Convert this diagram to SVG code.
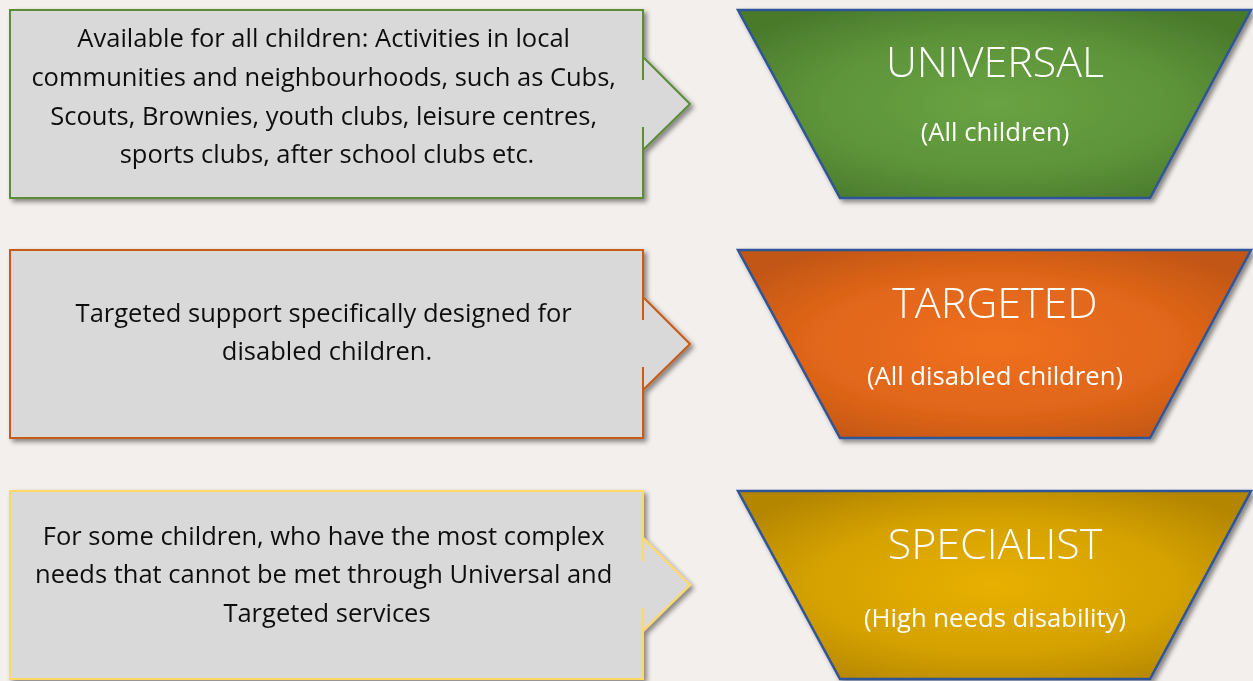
<svg xmlns="http://www.w3.org/2000/svg" width="1253" height="681" viewBox="0 0 1253 681">
  <style>
    .box { fill: #d9d9d9; stroke-width: 2; stroke-linejoin: miter; }
    .green { stroke: #5b8c39; }
    .orange { stroke: #c65b14; }
    .yellow { stroke: #ffd966; }
    .body { font-family: "Open Sans", "Liberation Sans", sans-serif; font-size: 25.5px; fill: #111111; text-anchor: middle; }
    .tier { stroke: #2f5597; stroke-width: 2.5; stroke-linejoin: miter; }
    .title { font-family: "Open Sans", "Liberation Sans", sans-serif; font-size: 43px; font-weight: 300; fill: #ffffff; text-anchor: middle; }
    .sub { font-family: "Open Sans", "Liberation Sans", sans-serif; font-size: 25.7px; fill: #ffffff; text-anchor: middle; }
  </style>
  <defs>
    <filter id="shadow" x="-10%" y="-10%" width="125%" height="130%">
      <feGaussianBlur in="SourceAlpha" stdDeviation="2.5"/>
      <feOffset dx="3" dy="3" result="blur"/>
      <feComponentTransfer><feFuncA type="linear" slope="0.45"/></feComponentTransfer>
      <feMerge><feMergeNode/><feMergeNode in="SourceGraphic"/></feMerge>
    </filter>
    <radialGradient id="gGreen" cx="0.5" cy="0.5" r="0.6">
      <stop offset="0" stop-color="#69a343"/>
      <stop offset="0.6" stop-color="#5d9339"/>
      <stop offset="1" stop-color="#4a7a2c"/>
    </radialGradient>
    <radialGradient id="gOrange" cx="0.5" cy="0.5" r="0.6">
      <stop offset="0" stop-color="#f0701a"/>
      <stop offset="0.6" stop-color="#e0661a"/>
      <stop offset="1" stop-color="#c25612"/>
    </radialGradient>
    <radialGradient id="gGold" cx="0.5" cy="0.5" r="0.6">
      <stop offset="0" stop-color="#e8b000"/>
      <stop offset="0.6" stop-color="#d4a100"/>
      <stop offset="1" stop-color="#b48600"/>
    </radialGradient>
  </defs>

  <rect width="1253" height="681" fill="#f3efec"/>

  <!-- description callouts -->
  <g id="universal-desc" filter="url(#shadow)">
    <path class="box green" d="M10,10 L643,10 L643,80 L643,57 L690,104 L643,150 L643,127 L643,198 L10,198 Z"/>
    <text class="body">
      <tspan x="327" y="47">Available for all children: Activities in local</tspan>
      <tspan x="327" y="86">communities and neighbourhoods, such as Cubs,</tspan>
      <tspan x="327" y="124.5">Scouts, Brownies, youth clubs, leisure centres,</tspan>
      <tspan x="327" y="163">sports clubs, after school clubs etc.</tspan>
    </text>
  </g>

  <g id="targeted-desc" filter="url(#shadow)">
    <path class="box orange" d="M10,250 L643,250 L643,320 L643,297 L690,344 L643,390 L643,367 L643,438 L10,438 Z"/>
    <text class="body">
      <tspan x="327" y="322">Targeted support specifically designed for</tspan>
      <tspan x="327" y="360">disabled children.</tspan>
    </text>
  </g>

  <g id="specialist-desc" filter="url(#shadow)">
    <path class="box yellow" d="M10,491 L643,491 L643,561 L643,538 L690,585 L643,631 L643,608 L643,679 L10,679 Z"/>
    <text class="body">
      <tspan x="327" y="545">For some children, who have the most complex</tspan>
      <tspan x="327" y="583">needs that cannot be met through Universal and</tspan>
      <tspan x="327" y="622">Targeted services</tspan>
    </text>
  </g>

  <!-- service tiers -->
  <g id="universal" filter="url(#shadow)">
    <polygon class="tier" fill="url(#gGreen)" points="738,10 1251,10 1150,198 840,198"/>
    <text class="title" x="995" y="77">UNIVERSAL</text>
    <text class="sub" x="995" y="141">(All children)</text>
  </g>

  <g id="targeted" filter="url(#shadow)">
    <polygon class="tier" fill="url(#gOrange)" points="738,250 1251,250 1150,438 840,438"/>
    <text class="title" x="995" y="318">TARGETED</text>
    <text class="sub" x="995" y="385">(All disabled children)</text>
  </g>

  <g id="specialist" filter="url(#shadow)">
    <polygon class="tier" fill="url(#gGold)" points="738,491 1251,491 1150,679 840,679"/>
    <text class="title" x="995" y="559">SPECIALIST</text>
    <text class="sub" x="995" y="627">(High needs disability)</text>
  </g>

  <!-- no separate connectors: the arrow heads are part of each callout outline -->
  <g id="connectors"/>
</svg>
